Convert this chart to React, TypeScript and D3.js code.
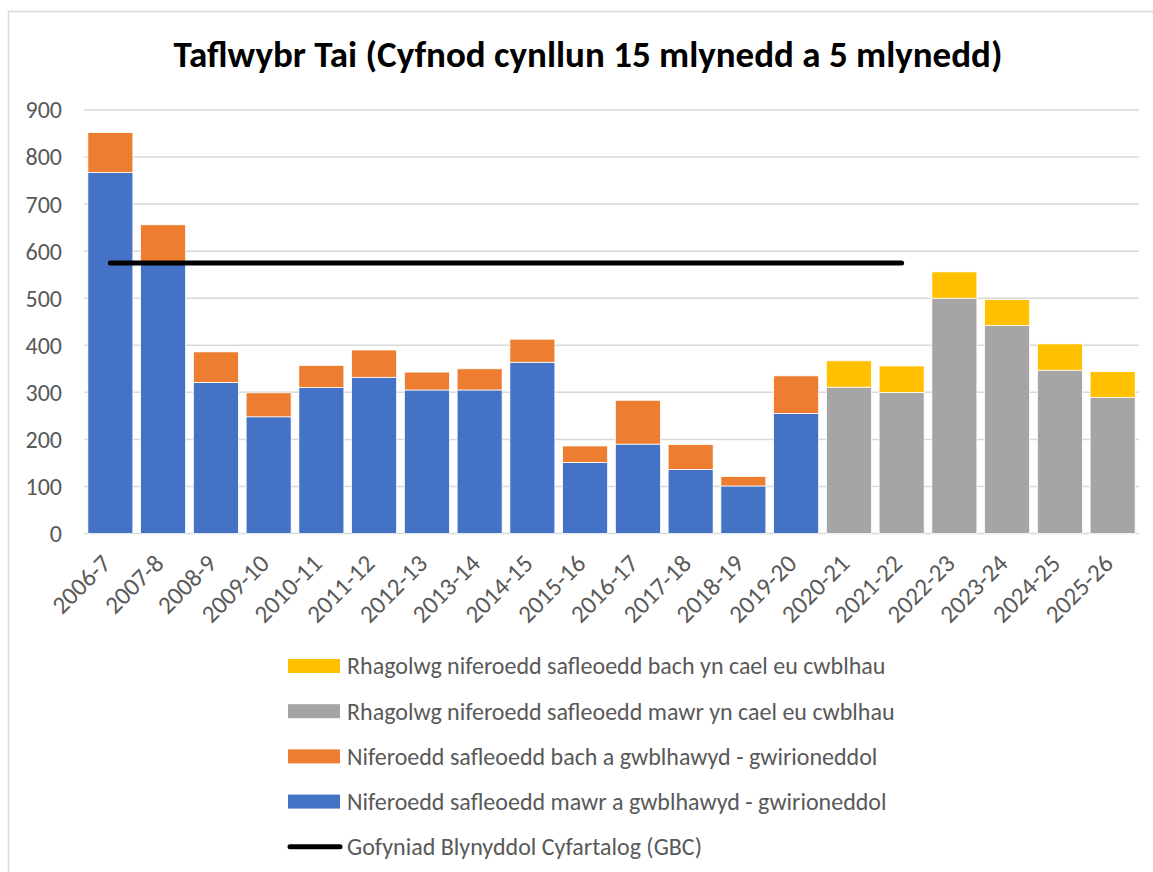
import React from "react";
import * as d3 from "d3";

const categories = ["2006-7","2007-8","2008-9","2009-10","2010-11","2011-12","2012-13","2013-14","2014-15","2015-16","2016-17","2017-18","2018-19","2019-20","2020-21","2021-22","2022-23","2023-24","2024-25","2025-26"];
const largeActual = [767, 577, 321, 248, 310, 332, 305, 305, 364, 151, 190, 136, 101, 255, 0, 0, 0, 0, 0, 0];
const smallActual = [85, 79, 65, 51, 47, 58, 38, 45, 49, 35, 93, 53, 20, 80, 0, 0, 0, 0, 0, 0];
const largeForecast = [0, 0, 0, 0, 0, 0, 0, 0, 0, 0, 0, 0, 0, 0, 311, 300, 500, 442, 347, 289];
const smallForecast = [0, 0, 0, 0, 0, 0, 0, 0, 0, 0, 0, 0, 0, 0, 56, 56, 56, 55, 56, 55];
const gbcCategories = categories.slice(0, 16);
const gbcValue = 575;
const yTicks = [0, 100, 200, 300, 400, 500, 600, 700, 800, 900];

const title = "Taflwybr Tai (Cyfnod cynllun 15 mlynedd a 5 mlynedd)";
const legendItems = [
  { label: "Rhagolwg niferoedd safleoedd bach yn cael eu cwblhau", color: "#FFC000", type: "rect" },
  { label: "Rhagolwg niferoedd safleoedd mawr yn cael eu cwblhau", color: "#A5A5A5", type: "rect" },
  { label: "Niferoedd safleoedd bach a gwblhawyd - gwirioneddol", color: "#ED7D31", type: "rect" },
  { label: "Niferoedd safleoedd mawr a gwblhawyd - gwirioneddol", color: "#4472C4", type: "rect" },
  { label: "Gofyniad Blynyddol Cyfartalog (GBC)", color: "#000000", type: "line" },
];

const seriesKeys = ["largeActual", "smallActual", "largeForecast", "smallForecast"];
const seriesColors: Record<string, string> = {
  largeActual: "#4472C4",
  smallActual: "#ED7D31",
  largeForecast: "#A5A5A5",
  smallForecast: "#FFC000",
};

export default function App() {
  const W = 1153, H = 872;
  const x0 = 84, x1 = 1139, yTop = 110, yBot = 533.5;
  const x = d3.scaleBand<string>().domain(categories).range([x0, x1]).paddingInner(0.147).paddingOuter(0.0735);
  const y = d3.scaleLinear().domain([0, 900]).range([yBot, yTop]);

  const rows = categories.map((c, i) => ({
    cat: c,
    largeActual: largeActual[i],
    smallActual: smallActual[i],
    largeForecast: largeForecast[i],
    smallForecast: smallForecast[i],
  }));
  const stack = d3.stack<any>().keys(seriesKeys)(rows);

  const line = d3.line<string>().x((c) => (x(c) as number) + x.bandwidth() / 2).y(() => y(gbcValue));

  const font = "Calibri, Carlito, 'Liberation Sans', Arial, sans-serif";
  const textColor = "#595959";

  return (
    <svg width={W} height={H} style={{ position: "absolute", left: 0, top: 0, display: "block", background: "#fff" }}>
      <rect x={8.5} y={11.5} width={1200} height={900} fill="#fff" stroke="#d9d9d9" strokeWidth={1.5} />
      <text x={588} y={67} textAnchor="middle" fontFamily={font} fontWeight="bold" fontSize={37} fill="#000">{title}</text>

      {yTicks.map((t) => (
        <g key={t}>
          <line x1={x0} x2={x1} y1={y(t)} y2={y(t)} stroke="#d9d9d9" strokeWidth={1.5} />
          <text x={62} y={y(t)} dy="0.35em" textAnchor="end" fontFamily={font} fontSize={24} fill={textColor}>{t}</text>
        </g>
      ))}

      {stack.map((s) => (
        <g key={s.key} fill={seriesColors[s.key]}>
          {s.map((d, i) => {
            const h = y(d[0]) - y(d[1]);
            if (h <= 0) return null;
            return (
              <rect key={i} x={x(categories[i])} y={y(d[1])} width={x.bandwidth()} height={h} stroke="#fff" strokeWidth={0.75} />
            );
          })}
        </g>
      ))}

      <path d={line(gbcCategories) || ""} fill="none" stroke="#000" strokeWidth={5} strokeLinecap="round" />

      {categories.map((c) => {
        const cx = (x(c) as number) + x.bandwidth() / 2;
        return (
          <text key={c} transform={`translate(${cx + 2},${565}) rotate(-45)`} textAnchor="end" fontFamily={font} fontSize={25} fill={textColor}>{c}</text>
        );
      })}

      {legendItems.map((it, i) => {
        const cy = 666 + i * 45.2;
        return (
          <g key={it.label}>
            {it.type === "rect" ? (
              <rect x={288} y={cy - 7} width={52} height={14} fill={it.color} />
            ) : (
              <line x1={290} x2={340} y1={cy} y2={cy} stroke={it.color} strokeWidth={5} strokeLinecap="round" />
            )}
            <text x={347} y={cy} dy="0.35em" fontFamily={font} fontSize={24} fill={textColor}>{it.label}</text>
          </g>
        );
      })}
    </svg>
  );
}
